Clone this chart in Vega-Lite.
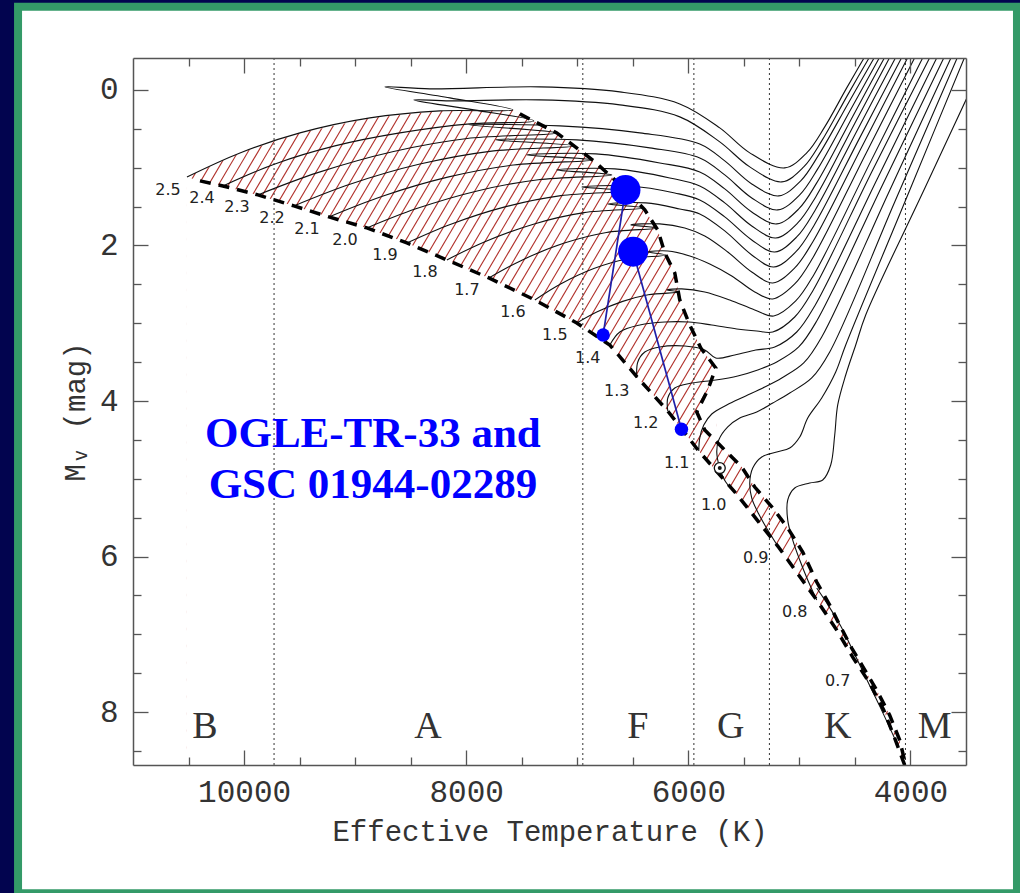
{
  "$schema": "https://vega.github.io/schema/vega-lite/v6.json",
  "width": 833,
  "height": 707,
  "autosize": {"type": "none"},
  "padding": {"left": 133, "top": 58, "right": 54, "bottom": 128},
  "background": "#02044f",
  "config": {"view": {"stroke": null}, "axis": {"grid": false, "labelOverlap": false, "labelFlush": false}},
  "resolve": {"axis": {"x": "independent", "y": "independent"}},
  "datasets": {
    "hatch": [
      {"b":13700,"e":9900},{"b":13610,"e":9810},{"b":13520,"e":9720},{"b":13430,"e":9630},{"b":13340,"e":9540},{"b":13250,"e":9450},{"b":13160,"e":9360},{"b":13070,"e":9270},{"b":12980,"e":9180},{"b":12890,"e":9090},
      {"b":12800,"e":9000},{"b":12710,"e":8910},{"b":12620,"e":8820},{"b":12530,"e":8730},{"b":12440,"e":8640},{"b":12350,"e":8550},{"b":12260,"e":8460},{"b":12170,"e":8370},{"b":12080,"e":8280},{"b":11990,"e":8190},
      {"b":11900,"e":8100},{"b":11810,"e":8010},{"b":11720,"e":7920},{"b":11630,"e":7830},{"b":11540,"e":7740},{"b":11450,"e":7650},{"b":11360,"e":7560},{"b":11270,"e":7470},{"b":11180,"e":7380},{"b":11090,"e":7290},
      {"b":11000,"e":7200},{"b":10910,"e":7110},{"b":10820,"e":7020},{"b":10730,"e":6930},{"b":10640,"e":6840},{"b":10550,"e":6750},{"b":10460,"e":6660},{"b":10370,"e":6570},{"b":10280,"e":6480},{"b":10190,"e":6390},
      {"b":10100,"e":6300},{"b":10010,"e":6210},{"b":9920,"e":6120},{"b":9830,"e":6030},{"b":9740,"e":5940},{"b":9650,"e":5850},{"b":9560,"e":5760},{"b":9470,"e":5670},{"b":9380,"e":5580},{"b":9290,"e":5490},
      {"b":9200,"e":5400},{"b":9110,"e":5310},{"b":9020,"e":5220},{"b":8930,"e":5130},{"b":8840,"e":5040},{"b":8750,"e":4950},{"b":8660,"e":4860},{"b":8570,"e":4770},{"b":8480,"e":4680},{"b":8390,"e":4590},
      {"b":8300,"e":4500},{"b":8210,"e":4410},{"b":8120,"e":4320},{"b":8030,"e":4230},{"b":7940,"e":4140},{"b":7850,"e":4050},{"b":7760,"e":3960},{"b":7670,"e":3870},{"b":7580,"e":3780},{"b":7490,"e":3690},
      {"b":7400,"e":3600},{"b":7310,"e":3510},{"b":7220,"e":3420},{"b":7130,"e":3330},{"b":7040,"e":3240},{"b":6950,"e":3150},{"b":6860,"e":3060},{"b":6770,"e":2970},{"b":6680,"e":2880},{"b":6590,"e":2790},
      {"b":6500,"e":2700},{"b":6410,"e":2610},{"b":6320,"e":2520},{"b":6230,"e":2430},{"b":6140,"e":2340},{"b":6050,"e":2250},{"b":5960,"e":2160},{"b":5870,"e":2070},{"b":5780,"e":1980},{"b":5690,"e":1890},
      {"b":5600,"e":1800},{"b":5510,"e":1710},{"b":5420,"e":1620},{"b":5330,"e":1530},{"b":5240,"e":1440},{"b":5150,"e":1350},{"b":5060,"e":1260},{"b":4970,"e":1170},{"b":4880,"e":1080},{"b":4790,"e":990},
      {"b":4700,"e":900},{"b":4610,"e":810},{"b":4520,"e":720},{"b":4430,"e":630},{"b":4340,"e":540},{"b":4250,"e":450},{"b":4160,"e":360},{"b":4070,"e":270},{"b":3980,"e":180}
    ],
    "um": [
      {"t":11200,"u":9},{"t":10514.5,"u":9},{"t":10514,"u":1.119},{"t":10037,"u":0.81},{"t":9497,"u":0.553},{"t":8867,"u":0.36},{"t":8237,"u":0.27},{"t":7580,"u":0.257},
      {"t":7517,"u":0.309},{"t":7184,"u":0.553},{"t":6851,"u":0.913},{"t":6563,"u":1.286},{"t":6392,"u":1.543},{"t":6275,"u":1.801},{"t":6212,"u":2.096},{"t":6122,"u":2.354},
      {"t":6077,"u":2.701},{"t":5987,"u":3.023},{"t":5888,"u":3.318},{"t":5753,"u":3.576},{"t":5748.5,"u":4.521},{"t":5699,"u":4.592},{"t":5519,"u":4.849},{"t":5402,"u":5.106},
      {"t":5240,"u":5.376},{"t":5105,"u":5.633},{"t":4970,"u":5.942},{"t":4844,"u":6.328},{"t":4727,"u":6.624},{"t":4637,"u":6.881},{"t":4529,"u":7.177},{"t":4421,"u":7.434},
      {"t":4304,"u":7.717},{"t":4187,"u":8.039},{"t":4097,"u":8.36},{"t":4043,"u":8.682},{"t":3300,"u":9}
    ],
    "lm": [
      {"t":10514,"z":1.119},{"t":10397,"z":1.17},{"t":10190,"z":1.235},{"t":9875,"z":1.35},{"t":9551,"z":1.492},{"t":9236,"z":1.633},{"t":8894,"z":1.775},{"t":8534,"z":1.968},
      {"t":8174,"z":2.186},{"t":7796,"z":2.418},{"t":7382,"z":2.701},{"t":7004,"z":2.997},{"t":6707,"z":3.28},{"t":6446,"z":3.717},{"t":6185,"z":4.129},{"t":5906,"z":4.643},
      {"t":5573,"z":5.183},{"t":5195,"z":5.865},{"t":4844,"z":6.559},{"t":4664,"z":6.945},{"t":4520,"z":7.293},{"t":4367,"z":7.627},{"t":4241,"z":7.974},{"t":4142,"z":8.334},
      {"t":4052,"z":8.682},{"t":3300,"z":8.682}
    ],
    "nm": [
      {"t":5924,"a":4.141,"c":4.141},{"t":5852,"a":3.936,"c":4.373},{"t":5825,"a":3.859,"c":4.412},{"t":5753,"a":3.576,"c":4.514},{"t":5748,"a":3.576,"c":4.521}
    ],
    "za": [
      {"t":10397,"v":1.17},{"t":10190,"v":1.235},{"t":9875,"v":1.35},{"t":9551,"v":1.492},{"t":9236,"v":1.633},{"t":8894,"v":1.775},{"t":8534,"v":1.968},
      {"t":8174,"v":2.186},{"t":7796,"v":2.418},{"t":7382,"v":2.701},{"t":7004,"v":2.997},{"t":6707,"v":3.28},{"t":6446,"v":3.717},{"t":6185,"v":4.129},{"t":5906,"v":4.643},
      {"t":5573,"v":5.183},{"t":5195,"v":5.865},{"t":4844,"v":6.559},{"t":4664,"v":6.945},{"t":4520,"v":7.293},{"t":4367,"v":7.627},{"t":4241,"v":7.974},{"t":4142,"v":8.334},{"t":4052,"v":8.682}
    ],
    "ta": [
      {"o":1,"t":7517,"v":0.309},{"o":2,"t":7184,"v":0.553},{"o":3,"t":6851,"v":0.913},{"o":4,"t":6563,"v":1.286},{"o":5,"t":6392,"v":1.543},{"o":6,"t":6275,"v":1.801},
      {"o":7,"t":6212,"v":2.096},{"o":8,"t":6122,"v":2.354},{"o":9,"t":6077,"v":2.701},{"o":10,"t":5987,"v":3.023},{"o":11,"t":5888,"v":3.318},{"o":12,"t":5753,"v":3.576},
      {"o":13,"t":5825,"v":3.859},{"o":14,"t":5924,"v":4.141},{"o":15,"t":5852,"v":4.373},{"o":16,"t":5699,"v":4.592},{"o":17,"t":5519,"v":4.849},{"o":18,"t":5402,"v":5.106},
      {"o":19,"t":5240,"v":5.376},{"o":20,"t":5105,"v":5.633},{"o":21,"t":4970,"v":5.942},{"o":22,"t":4844,"v":6.328},{"o":23,"t":4727,"v":6.624},{"o":24,"t":4637,"v":6.881},
      {"o":25,"t":4529,"v":7.177},{"o":26,"t":4421,"v":7.434},{"o":27,"t":4304,"v":7.717},{"o":28,"t":4187,"v":8.039},{"o":29,"t":4097,"v":8.36},{"o":30,"t":4043,"v":8.682}
    ],
    "tr": [
      {"m":"2.5","o":1,"t":10514,"v":1.119},{"m":"2.5","o":2,"t":10037,"v":0.81},{"m":"2.5","o":3,"t":9497,"v":0.553},{"m":"2.5","o":4,"t":8867,"v":0.36},{"m":"2.5","o":5,"t":8237,"v":0.27},
      {"m":"2.5","o":6,"t":7580,"v":0.257},{"m":"2.5","o":7,"t":8147,"v":0.103},{"m":"2.5","o":8,"t":8732,"v":-0.039},{"m":"2.5","o":9,"t":8327,"v":-0.013},{"m":"2.5","o":10,"t":7337,"v":-0.039},
      {"m":"2.5","o":11,"t":6617,"v":0.026},{"m":"2.5","o":12,"t":6077,"v":0.18},{"m":"2.5","o":13,"t":5717,"v":0.489},{"m":"2.5","o":14,"t":5447,"v":0.81},{"m":"2.5","o":15,"t":5132,"v":1.003},
      {"m":"2.5","o":16,"t":4934,"v":0.81},{"m":"2.5","o":17,"t":4772,"v":0.476},{"m":"2.5","o":18,"t":4574,"v":-0.026},{"m":"2.5","o":19,"t":4376,"v":-0.514},

      {"m":"2.4","o":1,"t":10190,"v":1.235},{"m":"2.4","o":2,"t":9722,"v":0.952},{"m":"2.4","o":3,"t":9182,"v":0.72},{"m":"2.4","o":4,"t":8597,"v":0.553},{"m":"2.4","o":5,"t":7967,"v":0.437},
      {"m":"2.4","o":6,"t":7391,"v":0.399},{"m":"2.4","o":7,"t":7931,"v":0.257},{"m":"2.4","o":8,"t":8471,"v":0.129},{"m":"2.4","o":9,"t":8147,"v":0.141},{"m":"2.4","o":10,"t":7337,"v":0.129},
      {"m":"2.4","o":11,"t":6617,"v":0.193},{"m":"2.4","o":12,"t":6077,"v":0.347},{"m":"2.4","o":13,"t":5717,"v":0.669},{"m":"2.4","o":14,"t":5447,"v":0.99},{"m":"2.4","o":15,"t":5159,"v":1.183},
      {"m":"2.4","o":16,"t":4961,"v":0.99},{"m":"2.4","o":17,"t":4799,"v":0.656},{"m":"2.4","o":18,"t":4565,"v":0.064},{"m":"2.4","o":19,"t":4331,"v":-0.514},

      {"m":"2.3","o":1,"t":9875,"v":1.35},{"m":"2.3","o":2,"t":9337,"v":1.064},{"m":"2.3","o":3,"t":8664,"v":0.795},{"m":"2.3","o":4,"t":7991,"v":0.625},{"m":"2.3","o":5,"t":7184,"v":0.553},
      {"m":"2.3","o":6,"t":7976,"v":0.45},{"m":"2.3","o":7,"t":7157,"v":0.463},{"m":"2.3","o":8,"t":6437,"v":0.553},{"m":"2.3","o":9,"t":5897,"v":0.695},{"m":"2.3","o":10,"t":5672,"v":0.913},
      {"m":"2.3","o":11,"t":5429,"v":1.209},{"m":"2.3","o":12,"t":5186,"v":1.363},{"m":"2.3","o":13,"t":4988,"v":1.17},{"m":"2.3","o":14,"t":4826,"v":0.836},{"m":"2.3","o":15,"t":4556,"v":0.161},
      {"m":"2.3","o":16,"t":4286,"v":-0.514},

      {"m":"2.2","o":1,"t":9551,"v":1.492},{"m":"2.2","o":2,"t":9047,"v":1.214},{"m":"2.2","o":3,"t":8417,"v":0.954},{"m":"2.2","o":4,"t":7787,"v":0.79},{"m":"2.2","o":5,"t":7031,"v":0.72},
      {"m":"2.2","o":6,"t":7733,"v":0.643},{"m":"2.2","o":7,"t":7004,"v":0.643},{"m":"2.2","o":8,"t":6347,"v":0.746},{"m":"2.2","o":9,"t":5897,"v":0.875},{"m":"2.2","o":10,"t":5672,"v":1.093},
      {"m":"2.2","o":11,"t":5429,"v":1.389},{"m":"2.2","o":12,"t":5195,"v":1.543},{"m":"2.2","o":13,"t":4997,"v":1.35},{"m":"2.2","o":14,"t":4835,"v":1.016},{"m":"2.2","o":15,"t":4538,"v":0.251},
      {"m":"2.2","o":16,"t":4241,"v":-0.514},

      {"m":"2.1","o":1,"t":9236,"v":1.633},{"m":"2.1","o":2,"t":8761,"v":1.37},{"m":"2.1","o":3,"t":8167,"v":1.122},{"m":"2.1","o":4,"t":7573,"v":0.966},{"m":"2.1","o":5,"t":6860,"v":0.9},
      {"m":"2.1","o":6,"t":7454,"v":0.836},{"m":"2.1","o":7,"t":6833,"v":0.823},{"m":"2.1","o":8,"t":6257,"v":0.939},{"m":"2.1","o":9,"t":5897,"v":1.055},{"m":"2.1","o":10,"t":5672,"v":1.273},
      {"m":"2.1","o":11,"t":5429,"v":1.569},{"m":"2.1","o":12,"t":5204,"v":1.723},{"m":"2.1","o":13,"t":5006,"v":1.531},{"m":"2.1","o":14,"t":4844,"v":1.196},{"m":"2.1","o":15,"t":4520,"v":0.341},
      {"m":"2.1","o":16,"t":4196,"v":-0.514},

      {"m":"2.0","o":1,"t":8894,"v":1.775},{"m":"2.0","o":2,"t":8453,"v":1.529},{"m":"2.0","o":3,"t":7901,"v":1.299},{"m":"2.0","o":4,"t":7351,"v":1.155},{"m":"2.0","o":5,"t":6689,"v":1.093},
      {"m":"2.0","o":6,"t":7184,"v":1.029},{"m":"2.0","o":7,"t":6662,"v":1.016},{"m":"2.0","o":8,"t":6167,"v":1.132},{"m":"2.0","o":9,"t":5897,"v":1.235},{"m":"2.0","o":10,"t":5672,"v":1.453},
      {"m":"2.0","o":11,"t":5429,"v":1.749},{"m":"2.0","o":12,"t":5213,"v":1.904},{"m":"2.0","o":13,"t":5015,"v":1.711},{"m":"2.0","o":14,"t":4853,"v":1.376},{"m":"2.0","o":15,"t":4502,"v":0.431},
      {"m":"2.0","o":16,"t":4151,"v":-0.514},

      {"m":"1.9","o":1,"t":8534,"v":1.968},{"m":"1.9","o":2,"t":8138,"v":1.727},{"m":"1.9","o":3,"t":7643,"v":1.501},{"m":"1.9","o":4,"t":7148,"v":1.359},{"m":"1.9","o":5,"t":6554,"v":1.299},
      {"m":"1.9","o":6,"t":6959,"v":1.248},{"m":"1.9","o":7,"t":6527,"v":1.235},{"m":"1.9","o":8,"t":6122,"v":1.325},{"m":"1.9","o":9,"t":5897,"v":1.415},{"m":"1.9","o":10,"t":5672,"v":1.633},
      {"m":"1.9","o":11,"t":5429,"v":1.929},{"m":"1.9","o":12,"t":5222,"v":2.084},{"m":"1.9","o":13,"t":5024,"v":1.891},{"m":"1.9","o":14,"t":4862,"v":1.556},{"m":"1.9","o":15,"t":4480,"v":0.521},
      {"m":"1.9","o":16,"t":4097,"v":-0.514},

      {"m":"1.8","o":1,"t":8174,"v":2.186},{"m":"1.8","o":2,"t":7821,"v":1.946},{"m":"1.8","o":3,"t":7380,"v":1.72},{"m":"1.8","o":4,"t":6939,"v":1.578},{"m":"1.8","o":5,"t":6410,"v":1.518},
      {"m":"1.8","o":6,"t":6725,"v":1.466},{"m":"1.8","o":7,"t":6383,"v":1.453},{"m":"1.8","o":8,"t":6077,"v":1.531},{"m":"1.8","o":9,"t":5897,"v":1.595},{"m":"1.8","o":10,"t":5672,"v":1.813},
      {"m":"1.8","o":11,"t":5429,"v":2.122},{"m":"1.8","o":12,"t":5231,"v":2.277},{"m":"1.8","o":13,"t":5033,"v":2.084},{"m":"1.8","o":14,"t":4871,"v":1.749},{"m":"1.8","o":15,"t":4457,"v":0.617},
      {"m":"1.8","o":16,"t":4043,"v":-0.514},

      {"m":"1.7","o":1,"t":7796,"v":2.418},{"m":"1.7","o":2,"t":7494,"v":2.186},{"m":"1.7","o":3,"t":7116,"v":1.969},{"m":"1.7","o":4,"t":6738,"v":1.833},{"m":"1.7","o":5,"t":6284,"v":1.775},
      {"m":"1.7","o":6,"t":6518,"v":1.736},{"m":"1.7","o":7,"t":6257,"v":1.723},{"m":"1.7","o":8,"t":6032,"v":1.775},{"m":"1.7","o":9,"t":5852,"v":1.878},{"m":"1.7","o":10,"t":5645,"v":2.084},
      {"m":"1.7","o":11,"t":5429,"v":2.341},{"m":"1.7","o":12,"t":5240,"v":2.482},{"m":"1.7","o":13,"t":5042,"v":2.289},{"m":"1.7","o":14,"t":4880,"v":1.955},{"m":"1.7","o":15,"t":4434,"v":0.72},
      {"m":"1.7","o":16,"t":3989,"v":-0.514},

      {"m":"1.6","o":1,"t":7382,"v":2.701},{"m":"1.6","o":2,"t":7146,"v":2.493},{"m":"1.6","o":3,"t":6851,"v":2.297},{"m":"1.6","o":4,"t":6557,"v":2.174},{"m":"1.6","o":5,"t":6203,"v":2.122},
      {"m":"1.6","o":6,"t":6365,"v":2.084},{"m":"1.6","o":7,"t":6185,"v":2.071},{"m":"1.6","o":8,"t":5987,"v":2.135},{"m":"1.6","o":9,"t":5807,"v":2.238},{"m":"1.6","o":10,"t":5609,"v":2.392},
      {"m":"1.6","o":11,"t":5402,"v":2.598},{"m":"1.6","o":12,"t":5240,"v":2.688},{"m":"1.6","o":13,"t":5042,"v":2.495},{"m":"1.6","o":14,"t":4880,"v":2.161},{"m":"1.6","o":15,"t":4403,"v":0.823},
      {"m":"1.6","o":16,"t":3926,"v":-0.514},

      {"m":"1.5","o":1,"t":7004,"v":2.997},{"m":"1.5","o":2,"t":6820,"v":2.853},{"m":"1.5","o":3,"t":6591,"v":2.719},{"m":"1.5","o":4,"t":6361,"v":2.634},{"m":"1.5","o":5,"t":6086,"v":2.598},
      {"m":"1.5","o":6,"t":6194,"v":2.572},{"m":"1.5","o":7,"t":6059,"v":2.559},{"m":"1.5","o":8,"t":5852,"v":2.598},{"m":"1.5","o":9,"t":5627,"v":2.701},{"m":"1.5","o":10,"t":5402,"v":2.83},
      {"m":"1.5","o":11,"t":5231,"v":2.907},{"m":"1.5","o":12,"t":5033,"v":2.714},{"m":"1.5","o":13,"t":4871,"v":2.379},{"m":"1.5","o":14,"t":4362,"v":0.932},{"m":"1.5","o":15,"t":3854,"v":-0.514},

      {"m":"1.4","o":1,"t":6707,"v":3.28},{"m":"1.4","o":2,"t":6617,"v":3.113},{"m":"1.4","o":3,"t":6437,"v":3.023},{"m":"1.4","o":4,"t":6212,"v":2.984},{"m":"1.4","o":5,"t":5996,"v":2.984},
      {"m":"1.4","o":6,"t":5789,"v":3.023},{"m":"1.4","o":7,"t":5564,"v":3.074},{"m":"1.4","o":8,"t":5384,"v":3.1},{"m":"1.4","o":9,"t":5240,"v":3.113},{"m":"1.4","o":10,"t":5042,"v":2.92},
      {"m":"1.4","o":11,"t":4880,"v":2.585},{"m":"1.4","o":12,"t":4340,"v":1.029},{"m":"1.4","o":13,"t":3791,"v":-0.514},

      {"m":"1.3","o":1,"t":6464,"v":3.704},{"m":"1.3","o":2,"t":6455,"v":3.498},{"m":"1.3","o":3,"t":6392,"v":3.37},{"m":"1.3","o":4,"t":6257,"v":3.305},{"m":"1.3","o":5,"t":6032,"v":3.293},
      {"m":"1.3","o":6,"t":5852,"v":3.344},{"m":"1.3","o":7,"t":5753,"v":3.447},{"m":"1.3","o":8,"t":5582,"v":3.408},{"m":"1.3","o":9,"t":5393,"v":3.344},{"m":"1.3","o":10,"t":5222,"v":3.305},
      {"m":"1.3","o":11,"t":5024,"v":3.113},{"m":"1.3","o":12,"t":4862,"v":2.778},{"m":"1.3","o":13,"t":4295,"v":1.132},{"m":"1.3","o":14,"t":3728,"v":-0.514},

      {"m":"1.2","o":1,"t":6185,"v":4.129},{"m":"1.2","o":2,"t":6185,"v":3.961},{"m":"1.2","o":3,"t":6122,"v":3.833},{"m":"1.2","o":4,"t":5969,"v":3.769},{"m":"1.2","o":5,"t":5753,"v":3.73},
      {"m":"1.2","o":6,"t":5555,"v":3.678},{"m":"1.2","o":7,"t":5375,"v":3.601},{"m":"1.2","o":8,"t":5204,"v":3.498},{"m":"1.2","o":9,"t":5006,"v":3.305},{"m":"1.2","o":10,"t":4844,"v":2.971},
      {"m":"1.2","o":11,"t":4254,"v":1.228},{"m":"1.2","o":12,"t":3665,"v":-0.514},

      {"m":"1.1","o":1,"t":5906,"v":4.643},{"m":"1.1","o":2,"t":5897,"v":4.476},{"m":"1.1","o":3,"t":5861,"v":4.309},{"m":"1.1","o":4,"t":5789,"v":4.167},{"m":"1.1","o":5,"t":5654,"v":4.051},
      {"m":"1.1","o":6,"t":5483,"v":3.936},{"m":"1.1","o":7,"t":5312,"v":3.82},{"m":"1.1","o":8,"t":5159,"v":3.704},{"m":"1.1","o":9,"t":4961,"v":3.511},{"m":"1.1","o":10,"t":4799,"v":3.177},
      {"m":"1.1","o":11,"t":4200,"v":1.331},{"m":"1.1","o":12,"t":3602,"v":-0.514},

      {"m":"1.0","o":1,"t":5573,"v":5.183},{"m":"1.0","o":2,"t":5663,"v":5.042},{"m":"1.0","o":3,"t":5717,"v":4.862},{"m":"1.0","o":4,"t":5744,"v":4.656},{"m":"1.0","o":5,"t":5726,"v":4.502},
      {"m":"1.0","o":6,"t":5645,"v":4.334},{"m":"1.0","o":7,"t":5537,"v":4.219},{"m":"1.0","o":8,"t":5384,"v":4.141},{"m":"1.0","o":9,"t":5240,"v":4.026},{"m":"1.0","o":10,"t":5087,"v":3.897},
      {"m":"1.0","o":11,"t":4889,"v":3.704},{"m":"1.0","o":12,"t":4727,"v":3.37},{"m":"1.0","o":13,"t":4138,"v":1.428},{"m":"1.0","o":14,"t":3548,"v":-0.514},

      {"m":"0.9","o":1,"t":5195,"v":5.865},{"m":"0.9","o":2,"t":5285,"v":5.659},{"m":"0.9","o":3,"t":5366,"v":5.453},{"m":"0.9","o":4,"t":5429,"v":5.248},{"m":"0.9","o":5,"t":5447,"v":5.055},
      {"m":"0.9","o":6,"t":5420,"v":4.862},{"m":"0.9","o":7,"t":5339,"v":4.72},{"m":"0.9","o":8,"t":5204,"v":4.656},{"m":"0.9","o":9,"t":5087,"v":4.605},{"m":"0.9","o":10,"t":4997,"v":4.463},
      {"m":"0.9","o":11,"t":4925,"v":4.219},{"m":"0.9","o":12,"t":4799,"v":3.961},{"m":"0.9","o":13,"t":4673,"v":3.627},{"m":"0.9","o":14,"t":4583,"v":3.28},{"m":"0.9","o":15,"t":4034,"v":1.383},
      {"m":"0.9","o":16,"t":3485,"v":-0.514},

      {"m":"0.8","o":1,"t":4844,"v":6.559},{"m":"0.8","o":2,"t":4925,"v":6.302},{"m":"0.8","o":3,"t":4997,"v":6.045},{"m":"0.8","o":4,"t":5060,"v":5.788},{"m":"0.8","o":5,"t":5105,"v":5.531},
      {"m":"0.8","o":6,"t":5105,"v":5.273},{"m":"0.8","o":7,"t":5042,"v":5.119},{"m":"0.8","o":8,"t":4907,"v":5.055},{"m":"0.8","o":9,"t":4790,"v":5.016},{"m":"0.8","o":10,"t":4718,"v":4.823},
      {"m":"0.8","o":11,"t":4682,"v":4.437},{"m":"0.8","o":12,"t":4655,"v":4.051},{"m":"0.8","o":13,"t":4583,"v":3.666},{"m":"0.8","o":14,"t":4493,"v":3.28},{"m":"0.8","o":15,"t":4403,"v":2.894},
      {"m":"0.8","o":16,"t":3868,"v":1.254},{"m":"0.8","o":17,"t":3332,"v":-0.386},

      {"m":"0.7","o":1,"t":4115,"v":8.424},{"m":"0.7","o":2,"t":4277,"v":7.923},{"m":"0.7","o":3,"t":4439,"v":7.447},{"m":"0.7","o":4,"t":4529,"v":7.177},{"m":"0.7","o":5,"t":4628,"v":6.894},
      {"m":"0.7","o":6,"t":4736,"v":6.637},{"m":"0.7","o":7,"t":4844,"v":6.405}
    ]
  },
  "layer": [
    {
      "data": {"values": [{}]},
      "mark": {"type": "rect", "fill": "white", "stroke": "#349a68", "strokeWidth": 8},
      "encoding": {
        "x": {"datum": 12035, "type": "quantitative", "scale": {"domain": [3500, 11000], "reverse": true, "nice": false, "zero": false}, "axis": null},
        "x2": {"datum": 3041},
        "y": {"datum": -1.068, "type": "quantitative", "scale": {"domain": [-0.41, 8.68], "reverse": true, "nice": false, "zero": false}, "axis": null},
        "y2": {"datum": 10.328}
      }
    },
    {
      "data": {"name": "hatch"},
      "mark": {"type": "rule", "color": "#b0302a", "strokeWidth": 1.1, "clip": true},
      "encoding": {
        "x": {"field": "b", "type": "quantitative", "scale": {"domain": [3500, 11000], "reverse": true, "nice": false, "zero": false}, "axis": null},
        "x2": {"field": "e"},
        "y": {"datum": 8.75, "type": "quantitative", "scale": {"domain": [-0.41, 8.68], "reverse": true, "nice": false, "zero": false}, "axis": null},
        "y2": {"datum": -0.45}
      }
    },
    {
      "data": {"name": "um"},
      "mark": {"type": "area", "color": "white", "clip": true},
      "encoding": {
        "x": {"field": "t", "type": "quantitative", "scale": {"domain": [3500, 11000], "reverse": true, "nice": false, "zero": false},
              "axis": {"orient": "bottom", "values": [10000, 8000, 6000, 4000], "format": "d", "ticks": false, "labelPadding": 12, "labelFont": "Liberation Mono", "labelFontSize": 31, "labelColor": "#333", "title": "Effective Temperature (K)", "titleFont": "Liberation Mono", "titleFontSize": 29, "titleFontWeight": "normal", "titleColor": "#333", "titlePadding": 10, "domainColor": "#555", "domainWidth": 1.5, "zindex": 1}},
        "y": {"field": "u", "type": "quantitative", "scale": {"domain": [-0.41, 8.68], "reverse": true, "nice": false, "zero": false},
              "axis": {"orient": "left", "values": [0, 2, 4, 6, 8], "ticks": false, "labelPadding": 15, "labelFont": "Liberation Mono", "labelFontSize": 31, "labelColor": "#333", "title": "Mᵥ (mag)", "titleFont": "Liberation Mono", "titleFontSize": 29, "titleFontWeight": "normal", "titleColor": "#333", "titlePadding": 9, "domainColor": "#555", "domainWidth": 1.5, "zindex": 1}},
        "y2": {"datum": -1}
      }
    },
    {
      "data": {"name": "lm"},
      "mark": {"type": "area", "color": "white", "clip": true},
      "encoding": {
        "x": {"field": "t", "type": "quantitative", "scale": {"domain": [3500, 11000], "reverse": true, "nice": false, "zero": false},
              "axis": {"orient": "bottom", "values": [10000, 8000, 6000, 4000], "tickSize": -15, "tickColor": "#555", "tickWidth": 1.3, "labels": false, "domain": false, "title": null, "zindex": 1}},
        "y": {"field": "z", "type": "quantitative", "scale": {"domain": [-0.41, 8.68], "reverse": true, "nice": false, "zero": false},
              "axis": {"orient": "left", "values": [0, 2, 4, 6, 8], "tickSize": -15, "tickColor": "#555", "tickWidth": 1.3, "labels": false, "domain": false, "title": null, "zindex": 1}},
        "y2": {"datum": 9}
      }
    },
    {
      "data": {"name": "nm"},
      "mark": {"type": "area", "color": "white", "clip": true},
      "encoding": {
        "x": {"field": "t", "type": "quantitative", "scale": {"domain": [3500, 11000], "reverse": true, "nice": false, "zero": false},
              "axis": {"orient": "bottom", "values": [10500, 9500, 9000, 8500, 7500, 7000, 6500, 5500, 5000, 4500], "tickSize": -8, "tickColor": "#555", "tickWidth": 1.3, "labels": false, "domain": false, "title": null, "zindex": 1}},
        "y": {"field": "a", "type": "quantitative", "scale": {"domain": [-0.41, 8.68], "reverse": true, "nice": false, "zero": false},
              "axis": {"orient": "left", "values": [0.5, 1, 1.5, 2.5, 3, 3.5, 4.5, 5, 5.5, 6.5, 7, 7.5, 8.5], "tickSize": -8, "tickColor": "#555", "tickWidth": 1.3, "labels": false, "domain": false, "title": null, "zindex": 1}},
        "y2": {"field": "c"}
      }
    },
    {
      "data": {"values": [{"t": 9730}, {"t": 6950}, {"t": 5950}, {"t": 5270}, {"t": 4045}]},
      "mark": {"type": "rule", "color": "#333", "strokeWidth": 1, "strokeDash": [2, 3], "clip": true},
      "encoding": {
        "x": {"field": "t", "type": "quantitative", "scale": {"domain": [3500, 11000], "reverse": true, "nice": false, "zero": false}, "axis": null}
      }
    },
    {
      "data": {"name": "tr"},
      "mark": {"type": "line", "color": "#111", "strokeWidth": 1.1, "interpolate": "catmull-rom", "clip": true},
      "encoding": {
        "x": {"field": "t", "type": "quantitative", "scale": {"domain": [3500, 11000], "reverse": true, "nice": false, "zero": false},
              "axis": {"orient": "top", "values": [10000, 8000, 6000, 4000], "tickSize": -15, "tickColor": "#555", "tickWidth": 1.3, "labels": false, "domain": true, "domainColor": "#555", "domainWidth": 1.5, "title": null, "zindex": 1}},
        "y": {"field": "v", "type": "quantitative", "scale": {"domain": [-0.41, 8.68], "reverse": true, "nice": false, "zero": false},
              "axis": {"orient": "right", "values": [0, 2, 4, 6, 8], "tickSize": -15, "tickColor": "#555", "tickWidth": 1.3, "labels": false, "domain": true, "domainColor": "#555", "domainWidth": 1.5, "title": null, "zindex": 1}},
        "detail": {"field": "m"},
        "order": {"field": "o", "type": "quantitative"}
      }
    },
    {
      "data": {"name": "za"},
      "mark": {"type": "line", "color": "black", "strokeWidth": 3.5, "strokeDash": [11, 8], "clip": true},
      "encoding": {
        "x": {"field": "t", "type": "quantitative", "scale": {"domain": [3500, 11000], "reverse": true, "nice": false, "zero": false},
              "axis": {"orient": "top", "values": [10500, 9500, 9000, 8500, 7500, 7000, 6500, 5500, 5000, 4500], "tickSize": -8, "tickColor": "#555", "tickWidth": 1.3, "labels": false, "domain": false, "title": null, "zindex": 1}},
        "y": {"field": "v", "type": "quantitative", "scale": {"domain": [-0.41, 8.68], "reverse": true, "nice": false, "zero": false},
              "axis": {"orient": "right", "values": [0.5, 1, 1.5, 2.5, 3, 3.5, 4.5, 5, 5.5, 6.5, 7, 7.5, 8.5], "tickSize": -8, "tickColor": "#555", "tickWidth": 1.3, "labels": false, "domain": false, "title": null, "zindex": 1}}
      }
    },
    {
      "data": {"name": "ta"},
      "mark": {"type": "line", "color": "black", "strokeWidth": 3.5, "strokeDash": [11, 8], "clip": true},
      "encoding": {
        "x": {"field": "t", "type": "quantitative", "scale": {"domain": [3500, 11000], "reverse": true, "nice": false, "zero": false}, "axis": null},
        "y": {"field": "v", "type": "quantitative", "scale": {"domain": [-0.41, 8.68], "reverse": true, "nice": false, "zero": false}, "axis": null},
        "order": {"field": "o", "type": "quantitative"}
      }
    },
    {
      "data": {"values": [{"a": 6566, "b": 1.286, "c": 6767, "d": 3.151}, {"a": 6497, "b": 2.08, "c": 6062, "d": 4.364}]},
      "mark": {"type": "rule", "color": "#1f1fa8", "strokeWidth": 1.7},
      "encoding": {
        "x": {"field": "a", "type": "quantitative", "scale": {"domain": [3500, 11000], "reverse": true, "nice": false, "zero": false}, "axis": null},
        "x2": {"field": "c"},
        "y": {"field": "b", "type": "quantitative", "scale": {"domain": [-0.41, 8.68], "reverse": true, "nice": false, "zero": false}, "axis": null},
        "y2": {"field": "d"}
      }
    },
    {
      "data": {"values": [{"t": 6566, "v": 1.286}, {"t": 6497, "v": 2.08}]},
      "mark": {"type": "circle", "color": "#0000ff", "opacity": 1, "size": 900},
      "encoding": {
        "x": {"field": "t", "type": "quantitative", "scale": {"domain": [3500, 11000], "reverse": true, "nice": false, "zero": false}, "axis": null},
        "y": {"field": "v", "type": "quantitative", "scale": {"domain": [-0.41, 8.68], "reverse": true, "nice": false, "zero": false}, "axis": null}
      }
    },
    {
      "data": {"values": [{"t": 6767, "v": 3.151}, {"t": 6062, "v": 4.364}]},
      "mark": {"type": "circle", "color": "#0000ff", "opacity": 1, "size": 180},
      "encoding": {
        "x": {"field": "t", "type": "quantitative", "scale": {"domain": [3500, 11000], "reverse": true, "nice": false, "zero": false}, "axis": null},
        "y": {"field": "v", "type": "quantitative", "scale": {"domain": [-0.41, 8.68], "reverse": true, "nice": false, "zero": false}, "axis": null}
      }
    },
    {
      "data": {"values": [{"t": 5717, "v": 4.862}]},
      "mark": {"type": "point", "shape": "circle", "filled": true, "fill": "white", "stroke": "#111", "strokeWidth": 1.3, "opacity": 1, "size": 120},
      "encoding": {
        "x": {"field": "t", "type": "quantitative", "scale": {"domain": [3500, 11000], "reverse": true, "nice": false, "zero": false}, "axis": null},
        "y": {"field": "v", "type": "quantitative", "scale": {"domain": [-0.41, 8.68], "reverse": true, "nice": false, "zero": false}, "axis": null}
      }
    },
    {
      "data": {"values": [{"t": 5717, "v": 4.862}]},
      "mark": {"type": "circle", "color": "#111", "opacity": 1, "size": 16},
      "encoding": {
        "x": {"field": "t", "type": "quantitative", "scale": {"domain": [3500, 11000], "reverse": true, "nice": false, "zero": false}, "axis": null},
        "y": {"field": "v", "type": "quantitative", "scale": {"domain": [-0.41, 8.68], "reverse": true, "nice": false, "zero": false}, "axis": null}
      }
    },
    {
      "data": {"values": [
        {"s": "2.5", "t": 10685, "v": 1.286}, {"s": "2.4", "t": 10379, "v": 1.389}, {"s": "2.3", "t": 10064, "v": 1.505}, {"s": "2.2", "t": 9749, "v": 1.646},
        {"s": "2.1", "t": 9434, "v": 1.788}, {"s": "2.0", "t": 9092, "v": 1.929}, {"s": "1.9", "t": 8732, "v": 2.122}, {"s": "1.8", "t": 8372, "v": 2.341},
        {"s": "1.7", "t": 7994, "v": 2.572}, {"s": "1.6", "t": 7580, "v": 2.855}, {"s": "1.5", "t": 7202, "v": 3.151}, {"s": "1.4", "t": 6905, "v": 3.447},
        {"s": "1.3", "t": 6644, "v": 3.871}, {"s": "1.2", "t": 6383, "v": 4.283}, {"s": "1.1", "t": 6104, "v": 4.797}, {"s": "1.0", "t": 5771, "v": 5.338},
        {"s": "0.9", "t": 5393, "v": 6.019}, {"s": "0.8", "t": 5042, "v": 6.714}, {"s": "0.7", "t": 4655, "v": 7.601}
      ]},
      "mark": {"type": "text", "font": "DejaVu Sans", "fontSize": 16, "color": "#222", "align": "center", "baseline": "middle"},
      "encoding": {
        "x": {"field": "t", "type": "quantitative", "scale": {"domain": [3500, 11000], "reverse": true, "nice": false, "zero": false}, "axis": null},
        "y": {"field": "v", "type": "quantitative", "scale": {"domain": [-0.41, 8.68], "reverse": true, "nice": false, "zero": false}, "axis": null},
        "text": {"field": "s"}
      }
    },
    {
      "data": {"values": [
        {"s": "B", "t": 10352, "v": 8.193}, {"s": "A", "t": 8345, "v": 8.193}, {"s": "F", "t": 6455, "v": 8.193},
        {"s": "G", "t": 5618, "v": 8.193}, {"s": "K", "t": 4655, "v": 8.193}, {"s": "M", "t": 3782, "v": 8.193}
      ]},
      "mark": {"type": "text", "font": "Liberation Serif", "fontSize": 38, "color": "#333", "align": "center", "baseline": "middle"},
      "encoding": {
        "x": {"field": "t", "type": "quantitative", "scale": {"domain": [3500, 11000], "reverse": true, "nice": false, "zero": false}, "axis": null},
        "y": {"field": "v", "type": "quantitative", "scale": {"domain": [-0.41, 8.68], "reverse": true, "nice": false, "zero": false}, "axis": null},
        "text": {"field": "s"}
      }
    },
    {
      "data": {"values": [
        {"s": "OGLE-TR-33 and", "t": 8840, "v": 4.592}, {"s": "GSC 01944-02289", "t": 8840, "v": 5.248}
      ]},
      "mark": {"type": "text", "font": "Liberation Serif", "fontSize": 43, "fontWeight": "bold", "color": "#0000ff", "align": "center", "baseline": "alphabetic"},
      "encoding": {
        "x": {"field": "t", "type": "quantitative", "scale": {"domain": [3500, 11000], "reverse": true, "nice": false, "zero": false}, "axis": null},
        "y": {"field": "v", "type": "quantitative", "scale": {"domain": [-0.41, 8.68], "reverse": true, "nice": false, "zero": false}, "axis": null},
        "text": {"field": "s"}
      }
    }
  ]
}
